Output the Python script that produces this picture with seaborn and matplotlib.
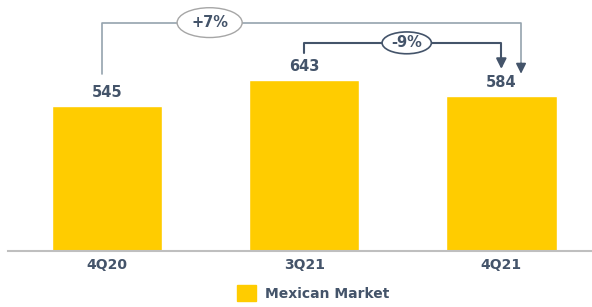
import matplotlib
matplotlib.use('Agg')
import pandas as pd
import matplotlib.pyplot as plt
import seaborn as sns
from matplotlib.patches import Ellipse, Patch

quarters = ['4Q20', '3Q21', '4Q21']
volumes = [545, 643, 584]
series_name = 'Mexican Market'
changes = ['+7%', '-9%']

yellow = '#FFCC00'
dark = '#44546A'
light = '#95A3AE'

df = pd.DataFrame({'quarter': quarters, 'volume': volumes})

sns.set_style('white')
plt.rcParams['font.family'] = ['DejaVu Sans']

fig = plt.figure(figsize=(5.92, 3.07), dpi=100)
ax = fig.add_axes([8 / 592, 56 / 307, 584 / 592, 251 / 307])
sns.barplot(data=df, x='quarter', y='volume', color=yellow, width=0.56,
            saturation=1, ax=ax)

ax.set_xlim(-0.503, 2.46)
ax.set_ylim(0, 943)
ax.set_xlabel('')
ax.set_ylabel('')
ax.set_yticks([])
for s in ['top', 'right', 'left']:
    ax.spines[s].set_visible(False)
ax.spines['bottom'].set_color('#BFBFBF')
ax.spines['bottom'].set_linewidth(1.5)
ax.tick_params(axis='x', length=0, pad=5)
for t in ax.get_xticklabels():
    t.set_fontweight('bold')
    t.set_color(dark)
    t.set_fontsize(10)

# value labels
for i, v in enumerate(volumes):
    ax.text(i, v + 22, str(v), ha='center', va='bottom', fontsize=10.5,
            fontweight='bold', color=dark)

# +7% bracket (4Q20 -> 4Q21)
top1 = 858
ax.plot([-0.025, -0.025, 2.1, 2.1], [volumes[0] + 120, top1, top1, 700],
        color=light, lw=1.2, clip_on=False)
ax.annotate('', xy=(2.1, volumes[2] + 82), xytext=(2.1, 705),
            arrowprops=dict(arrowstyle='-|>,head_length=0.6,head_width=0.3',
                            color=dark, lw=1.2, shrinkA=0, shrinkB=0))
e1 = Ellipse((0.52, top1), 0.33, 112, facecolor='white', edgecolor='#A6A6A6',
             lw=1, zorder=3, clip_on=False)
ax.add_patch(e1)
ax.text(0.52, top1, changes[0], ha='center', va='center', fontsize=10.5,
        fontweight='semibold', color=dark, zorder=4)

# -9% bracket (3Q21 -> 4Q21)
top2 = 782
ax.plot([1, 1, 2, 2], [volumes[1] + 101, top2, top2, 720],
        color=dark, lw=1.5, clip_on=False)
ax.annotate('', xy=(2, volumes[2] + 100), xytext=(2, 725),
            arrowprops=dict(arrowstyle='-|>,head_length=0.6,head_width=0.3',
                            color=dark, lw=1.5, shrinkA=0, shrinkB=0))
e2 = Ellipse((1.52, top2), 0.25, 82, facecolor='white', edgecolor=dark,
             lw=1.2, zorder=3, clip_on=False)
ax.add_patch(e2)
ax.text(1.52, top2, changes[1], ha='center', va='center', fontsize=10.5,
        fontweight='bold', color=dark, zorder=4)

leg = fig.legend(handles=[Patch(color=yellow, label=series_name)],
                 loc='center', bbox_to_anchor=(313 / 592, 14 / 307),
                 frameon=False, handlelength=1.4, handleheight=1.3,
                 handletextpad=0.6, prop={'weight': 'bold', 'size': 10})
for t in leg.get_texts():
    t.set_color(dark)

fig.savefig('out.png', dpi=100)
